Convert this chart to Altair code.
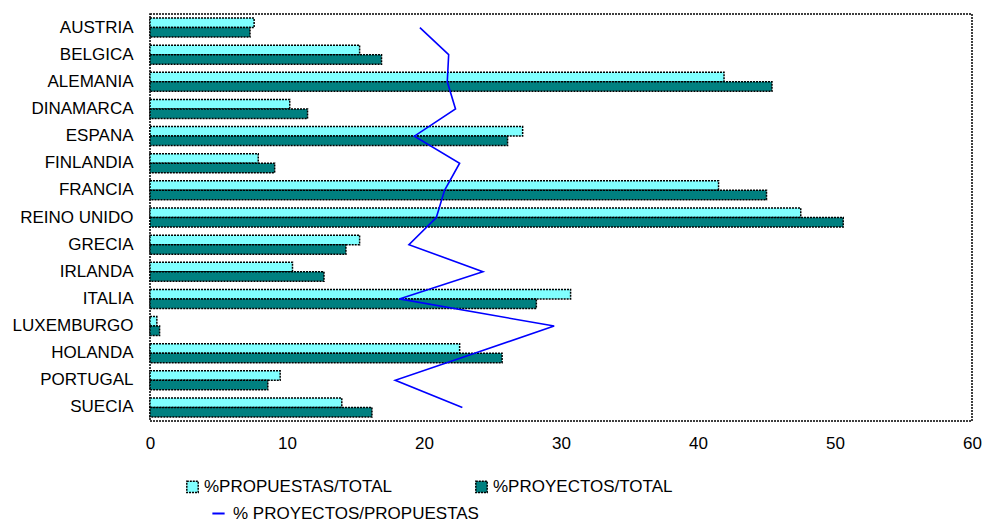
import altair as alt
import pandas as pd

# Countries, top to bottom
countries = ["AUSTRIA", "BELGICA", "ALEMANIA", "DINAMARCA", "ESPANA", "FINLANDIA",
             "FRANCIA", "REINO UNIDO", "GRECIA", "IRLANDA", "ITALIA", "LUXEMBURGO",
             "HOLANDA", "PORTUGAL", "SUECIA"]
# Share of proposals over total (%)
propuestas = [7.6, 15.3, 41.9, 10.2, 27.2, 7.9, 41.5, 47.5, 15.3, 10.4, 30.7, 0.5, 22.6, 9.5, 14.0]
# Share of funded projects over total (%)
proyectos = [7.3, 16.9, 45.4, 11.5, 26.1, 9.1, 45.0, 50.6, 14.3, 12.7, 28.2, 0.7, 25.7, 8.6, 16.2]
# Projects per proposals (%)
ratio = [19.7, 21.8, 21.7, 22.3, 19.3, 22.6, 21.5, 20.9, 18.9, 24.3, 18.2, 29.5, 23.7, 17.9, 22.8]

series_names = ["%PROPUESTAS/TOTAL", "%PROYECTOS/TOTAL"]
line_name = "% PROYECTOS/PROPUESTAS"
x_ticks = [0, 10, 20, 30, 40, 50, 60]

bars = pd.DataFrame(
    [{"pais": c, "serie": series_names[0], "valor": v, "k": 0} for c, v in zip(countries, propuestas)]
    + [{"pais": c, "serie": series_names[1], "valor": v, "k": 1} for c, v in zip(countries, proyectos)]
)
line = pd.DataFrame({"pais": countries, "valor": ratio, "idx": range(len(countries)), "serie": line_name})

FONT = "Liberation Sans"
FS = 17

y_enc = alt.Y("pais:N", sort=countries,
              scale=alt.Scale(paddingInner=0.3, paddingOuter=0.15),
              axis=alt.Axis(title=None, ticks=False, domain=False, labelFontSize=FS,
                            labelFont=FONT, labelColor="black", labelPadding=17))
x_enc = alt.X("valor:Q", scale=alt.Scale(domain=[0, 60], nice=False),
              axis=alt.Axis(title=None, values=x_ticks, ticks=False, domain=False, grid=False,
                            labelFontSize=FS, labelFont=FONT, labelColor="black",
                            labelPadding=14, labelFlush=False))

bar_layer = alt.Chart(bars).mark_bar(
    stroke="black", strokeWidth=1.5, strokeDash=[2, 1]
).encode(
    y=y_enc,
    x=x_enc,
    yOffset=alt.YOffset("k:O", scale=alt.Scale(paddingInner=0)),
    fill=alt.Fill("serie:N",
                  scale=alt.Scale(domain=series_names, range=["#80FFFF", "#008080"]),
                  legend=alt.Legend(title=None, orient="none", legendX=34, legendY=464,
                                    direction="horizontal", columns=2, columnPadding=80,
                                    symbolType="square", symbolSize=130,
                                    symbolStrokeColor="black", symbolStrokeWidth=1.5,
                                    symbolDash=[2, 1],
                                    labelFont=FONT, labelFontSize=FS, labelColor="black",
                                    labelOffset=3, labelLimit=400)),
)

line_layer = alt.Chart(line).mark_line(strokeWidth=1.6).encode(
    y=alt.Y("pais:N", sort=countries),
    x=alt.X("valor:Q"),
    order="idx:Q",
    stroke=alt.Stroke("serie:N", scale=alt.Scale(domain=[line_name], range=["#0000FF"]),
                      legend=alt.Legend(title=None, orient="none", legendX=60, legendY=491,
                                        symbolType="stroke", symbolSize=150,
                                        symbolStrokeWidth=2,
                                        labelFont=FONT, labelFontSize=FS, labelColor="black",
                                        labelOffset=6, labelLimit=400)),
)

chart = alt.layer(bar_layer, line_layer).properties(
    width=822, height=407,
    autosize=alt.AutoSizeParams(type="none"),
    padding={"left": 150, "top": 14, "right": 14, "bottom": 101},
    background="white",
).configure_view(
    stroke="black", strokeWidth=1.5, strokeDash=[2, 1]
).resolve_scale(fill="independent", stroke="independent")

chart.save("out.html", embed_options={"renderer": "svg", "actions": False})
